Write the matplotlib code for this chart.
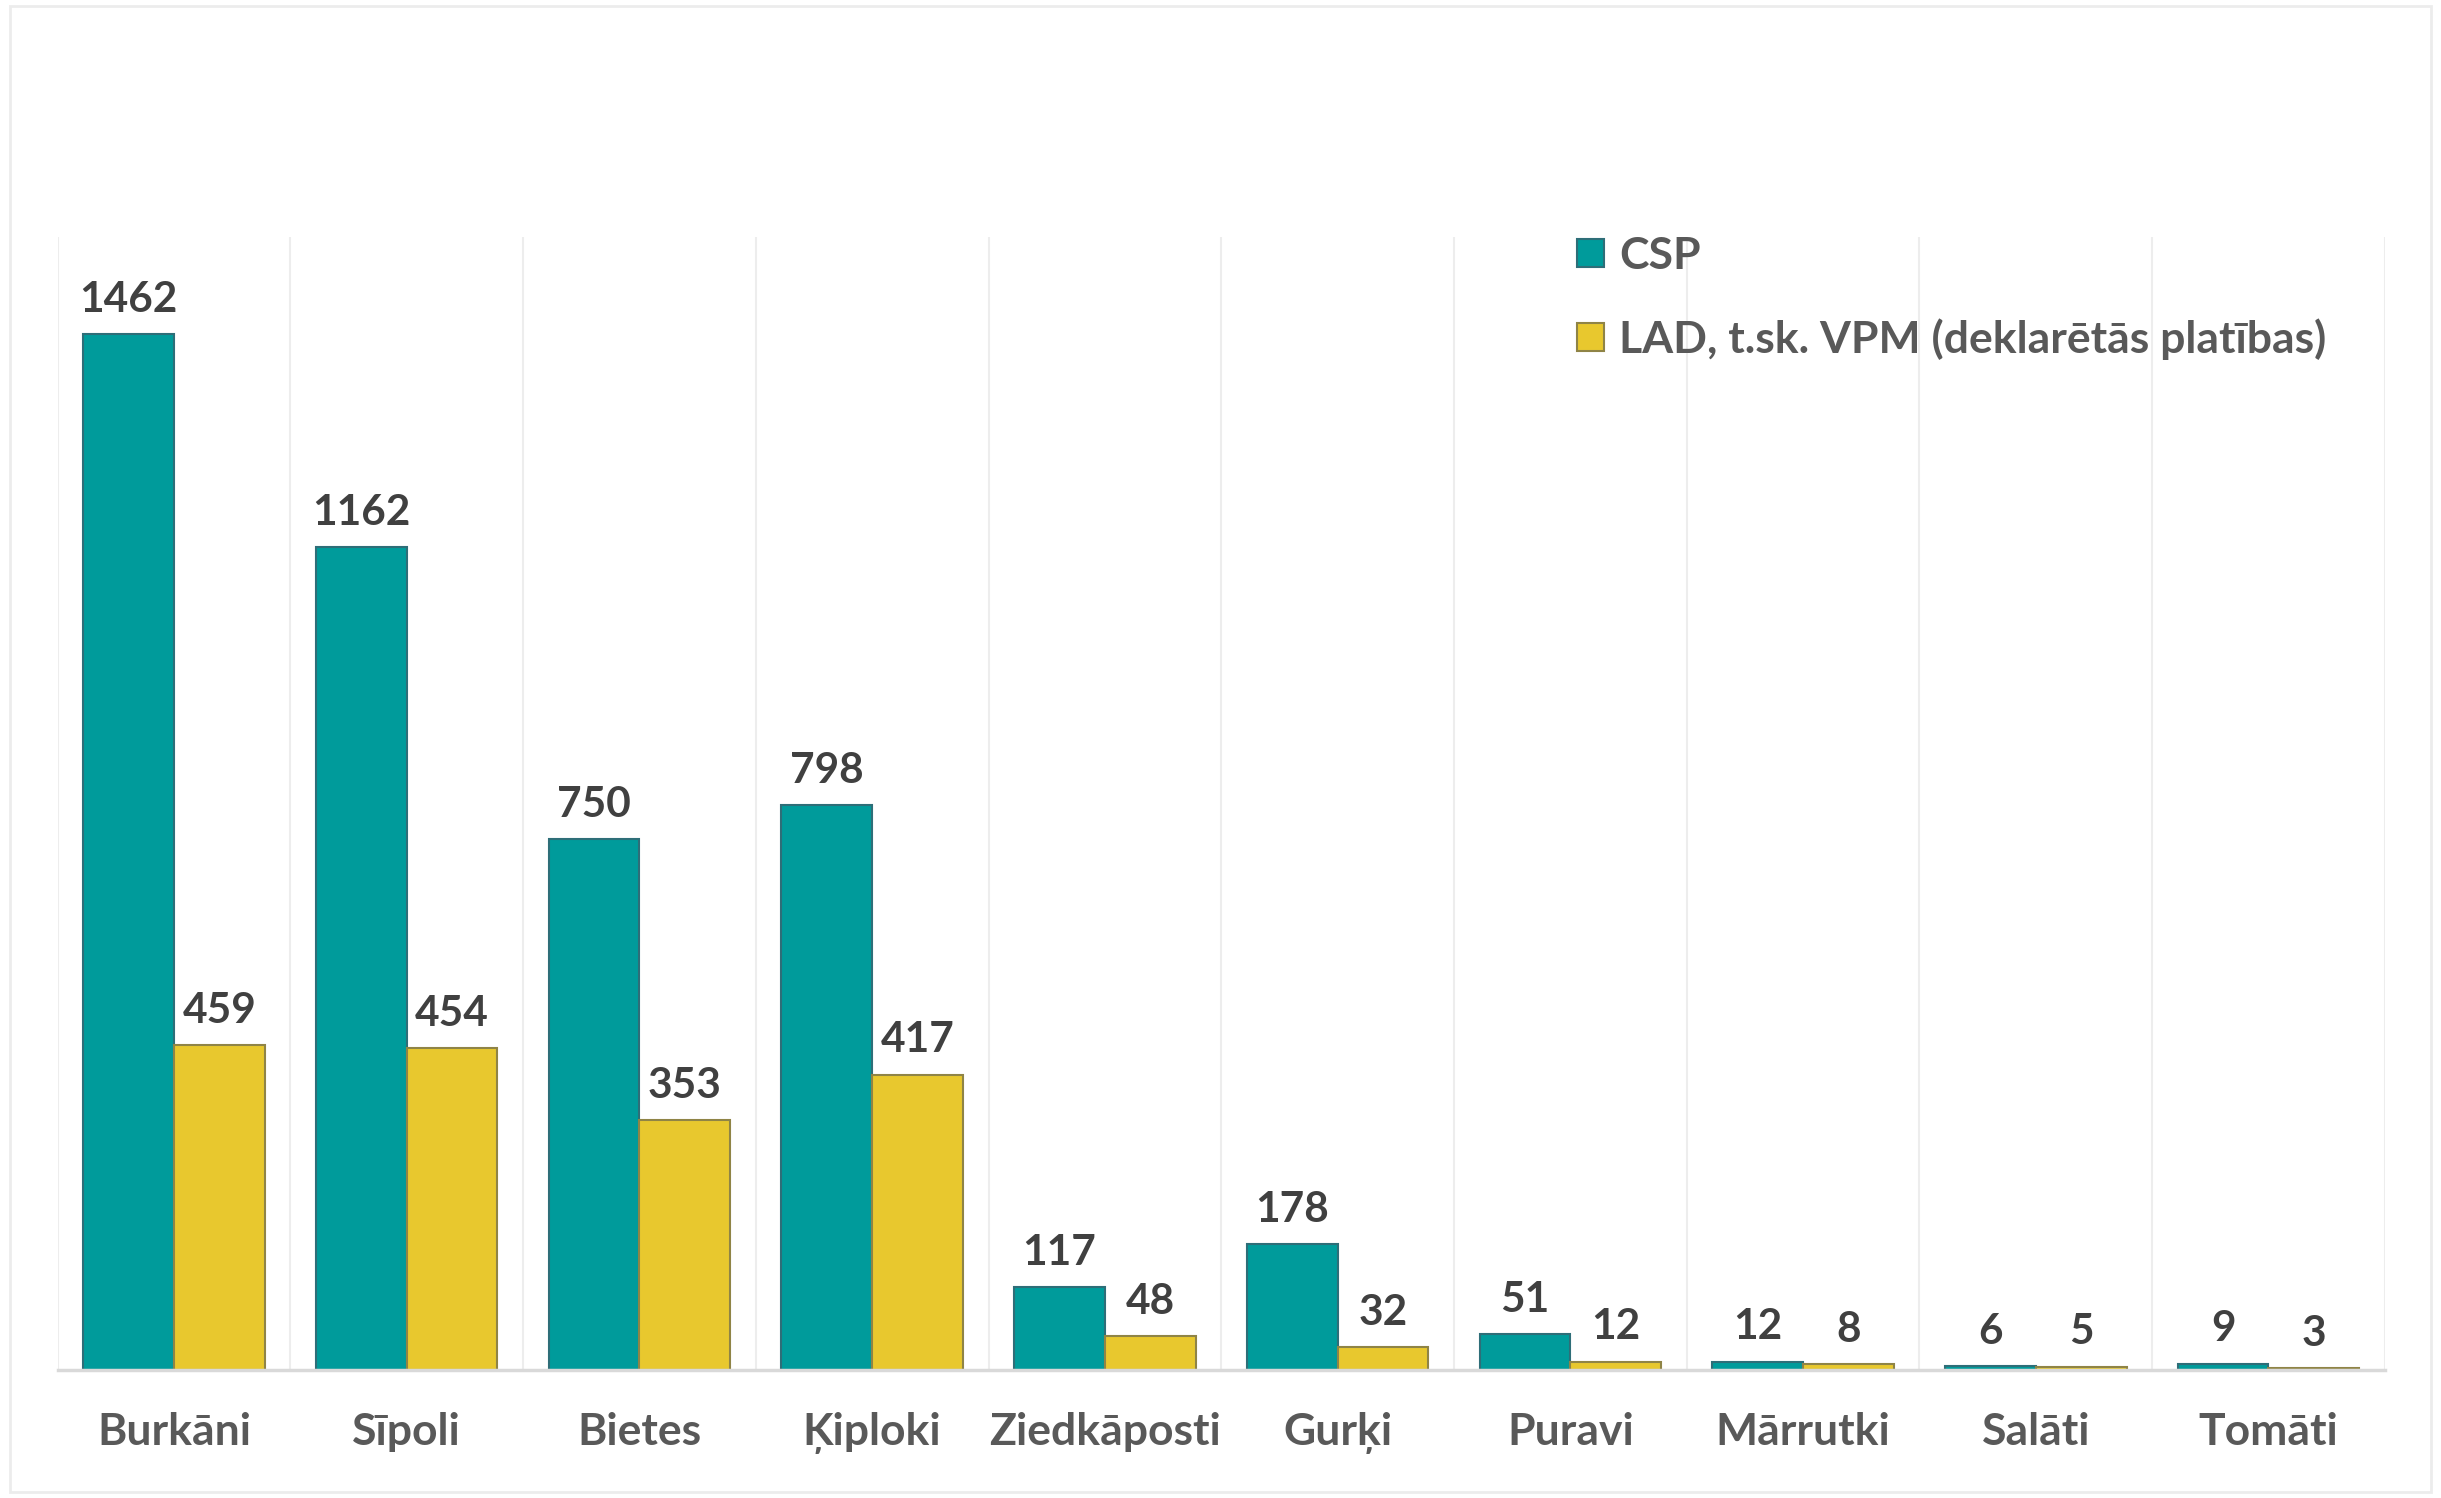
import matplotlib
matplotlib.use("Agg")
import matplotlib.pyplot as plt
from matplotlib.patches import Rectangle, Patch
import numpy as np

categories = ["Burkāni", "Sīpoli", "Bietes", "Ķiploki", "Ziedkāposti",
              "Gurķi", "Puravi", "Mārrutki", "Salāti", "Tomāti"]
csp = [1462, 1162, 750, 798, 117, 178, 51, 12, 6, 9]
lad = [459, 454, 353, 417, 48, 32, 12, 8, 5, 3]
series_names = ["CSP", "LAD, t.sk. VPM (deklarētās platības)"]

teal = "#009B9B"
teal_edge = "#2E6E78"
yellow = "#E8C82E"
yellow_edge = "#8F8446"

plt.rcParams['font.family'] = ['Lato', 'DejaVu Sans']

fig = plt.figure(figsize=(24.41, 14.98), dpi=100)
ax = fig.add_axes([0.0236, 0.0854, 0.977 - 0.0236, 0.842 - 0.0854])

x = np.arange(len(categories))
w = 0.39
b1 = ax.bar(x - w / 2, csp, w, color=teal, edgecolor=teal_edge, linewidth=1.5, zorder=3)
b2 = ax.bar(x + w / 2, lad, w, color=yellow, edgecolor=yellow_edge, linewidth=1.5, zorder=3)

for bars, vals in ((b1, csp), (b2, lad)):
    for r, v in zip(bars, vals):
        ax.annotate(str(v), (r.get_x() + r.get_width() / 2, r.get_height()),
                    xytext=(0, 11), textcoords="offset points",
                    ha="center", va="bottom", fontsize=30.5, fontweight="bold",
                    color="#404040")

ax.set_xlim(-0.5, len(categories) - 0.5)
ax.set_ylim(0, 1600)

# vertical separators between categories
for b in np.arange(-0.5, len(categories), 1.0):
    ax.axvline(b, color="#ededed", linewidth=1.5, zorder=1)

for s in ("top", "right", "left"):
    ax.spines[s].set_visible(False)
ax.spines["bottom"].set_color("#d9d9d9")
ax.spines["bottom"].set_linewidth(2.5)
ax.spines["bottom"].set_zorder(4)

ax.set_yticks([])
ax.set_xticks(x)
ax.set_xticklabels(categories, fontsize=32, fontweight="bold", color="#595959")
ax.tick_params(axis="x", length=0, pad=30)

handles = [Patch(facecolor=teal, edgecolor=teal_edge, linewidth=1.5),
           Patch(facecolor=yellow, edgecolor=yellow_edge, linewidth=1.5)]
leg = fig.legend(handles, series_names, loc="upper left",
                 bbox_to_anchor=(1577 / 2441, 1 - 236 / 1498),
                 frameon=False, fontsize=32, handlelength=0.6, handleheight=0.6,
                 handletextpad=0.35, labelspacing=0.95, borderaxespad=0, borderpad=0)
for t in leg.get_texts():
    t.set_color("#595959")
    t.set_fontweight("bold")

fig.patches.append(Rectangle((10 / 2441, 6 / 1498), 1 - 20 / 2441, 1 - 12 / 1498,
                             transform=fig.transFigure, fill=False,
                             edgecolor="#ececec", linewidth=2))

fig.savefig("out.png", dpi=100, facecolor="white")
